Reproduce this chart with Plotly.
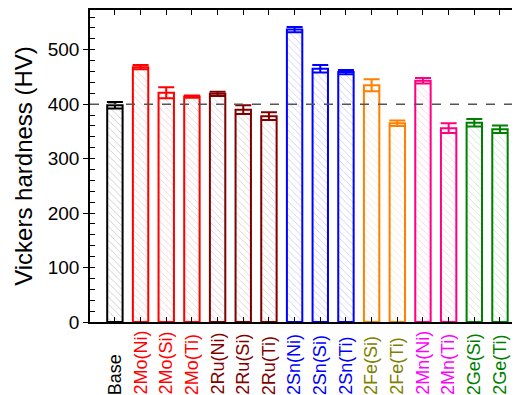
import plotly.graph_objects as go

categories = ["Base", "2Mo(Ni)", "2Mo(Si)", "2Mo(Ti)", "2Ru(Ni)", "2Ru(Si)", "2Ru(Ti)",
              "2Sn(Ni)", "2Sn(Si)", "2Sn(Ti)", "2Fe(Si)", "2Fe(Ti)", "2Mn(Ni)", "2Mn(Ti)",
              "2Ge(Si)", "2Ge(Ti)"]
hardness = [398, 468, 421, 414, 419, 390, 378, 537, 465, 459, 435, 365, 443, 356, 366, 354]
errors = [6, 4, 10, 2, 4, 8, 7, 5, 7, 4, 11, 5, 5, 9, 7, 7]
bar_colors = ["#000000", "#FF0000", "#FF0000", "#FF0000", "#800000", "#800000", "#800000",
              "#0000FF", "#0000FF", "#0000FF", "#FF8000", "#FF8000", "#FF0080", "#FF0080",
              "#008000", "#008000"]
label_colors = ["#000000", "#FF0000", "#FF0000", "#FF0000", "#800000", "#800000", "#800000",
                "#0000FF", "#0000FF", "#0000FF", "#808000", "#808000", "#FF00FF", "#FF00FF",
                "#008000", "#008000"]
reference_level = 400

FONT = "Liberation Sans, Arial, sans-serif"

fig = go.Figure()
for cat, val, err, col in zip(categories, hardness, errors, bar_colors):
    fig.add_trace(go.Bar(
        x=[cat], y=[val], width=0.6,
        marker=dict(color="white", line=dict(color=col, width=2),
                    pattern=dict(shape="\\", fgcolor=col, fgopacity=0.3, size=5, solidity=0.12)),
        error_y=dict(type="data", array=[err], color=col, thickness=2, width=8),
        showlegend=False, hoverinfo="skip",
    ))

# empty trace to create right-hand tick axis
fig.add_trace(go.Scatter(x=[], y=[], yaxis="y2", showlegend=False))

for cat, col in zip(categories, label_colors):
    fig.add_annotation(x=cat, y=-0.24, xref="x", yref="paper", text=cat, textangle=-90,
                       showarrow=False, xanchor="center", yanchor="bottom",
                       font=dict(family=FONT, size=18, color=col))

fig.add_shape(type="line", xref="paper", x0=0, x1=1, yref="y", y0=reference_level, y1=reference_level,
              line=dict(color="#555555", width=1.5, dash="dash"))

fig.update_layout(
    width=520, height=395,
    margin=dict(l=82, r=8, t=2, b=81, autoexpand=False),
    paper_bgcolor="white", plot_bgcolor="white",
    barmode="overlay",
    xaxis=dict(type="category", categoryorder="array", categoryarray=categories,
               range=[-0.97, 15.78], showticklabels=False,
               ticks="inside", ticklen=5, tickcolor="black", tickwidth=1,
               showline=True, linecolor="black", linewidth=1.5, mirror="ticks",
               showgrid=False, zeroline=False),
    yaxis=dict(range=[0, 573], dtick=100, tick0=0,
               ticks="outside", ticklen=5, tickcolor="black", tickwidth=1,
               minor=dict(ticks="inside", ticklen=5, dtick=20, tickcolor="black", showgrid=False),
               showline=True, linecolor="black", linewidth=1.5,
               showgrid=False, zeroline=False,
               tickfont=dict(family=FONT, size=19, color="black"),
               title=dict(text="Vickers hardness (HV)", standoff=8,
                          font=dict(family=FONT, size=24, color="black"))),
    yaxis2=dict(range=[0, 573], dtick=100, tick0=0, overlaying="y", side="right",
                ticks="inside", ticklen=5, tickcolor="black", showticklabels=False,
                showline=False, showgrid=False, zeroline=False),
)

fig.write_html("out.html")
